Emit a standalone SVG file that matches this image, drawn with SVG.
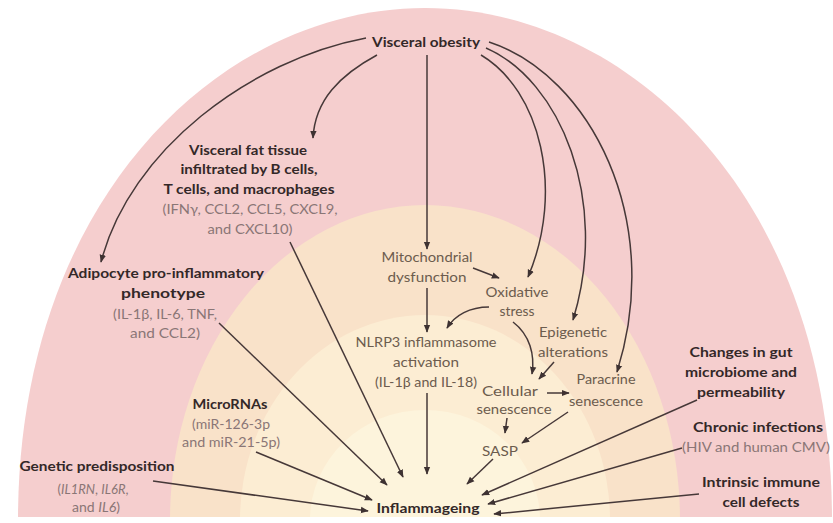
<svg xmlns="http://www.w3.org/2000/svg" width="833" height="523" viewBox="0 0 833 523">
<defs>
<marker id="ah" viewBox="0 0 10 10" refX="9" refY="5" markerWidth="8" markerHeight="8" orient="auto" markerUnits="userSpaceOnUse">
<path d="M0,1 L10,5 L0,9 z" fill="#3e3232"/>
</marker>
<clipPath id="clip"><rect x="0" y="0" width="833" height="517"/></clipPath>
</defs>
<style>
text{font-family:Lato,"Liberation Sans",sans-serif;text-anchor:middle}
.b{font-weight:bold;font-size:14px;fill:#332828}
.g{font-size:13px;fill:#8a7676}
.i{font-size:14px;fill:#6c5c4e}
.c path,.c line{fill:none;stroke:#463838;stroke-width:1.5;marker-end:url(#ah)}
</style>
<rect width="833" height="523" fill="#ffffff"/>
<g id="background" clip-path="url(#clip)">
<path d="M 18 520 C 18 200, 220 8, 425 8 C 630 8, 832 200, 832 520 Z" fill="#f5cece"/>
<ellipse cx="425" cy="520" rx="255" ry="315" fill="#f9e2c9"/>
<ellipse cx="425" cy="520" rx="185" ry="205" fill="#fcedd3"/>
<ellipse cx="425" cy="520" rx="115" ry="110" fill="#fdf4dc"/>
</g>
<g id="connectors" class="c">
<path d="M 366 38 C 250 60, 130 150, 101 262"/>
<path d="M 377 55 C 340 75, 315 100, 313 138"/>
<line x1="427" y1="55" x2="427" y2="249"/>
<path d="M 481 55 C 540 90, 565 190, 528 277"/>
<path d="M 486 48 C 560 80, 610 200, 573 320"/>
<path d="M 489 42 C 590 75, 665 220, 617 372"/>
<line x1="473" y1="268" x2="499" y2="278"/>
<line x1="427" y1="288" x2="427" y2="332"/>
<path d="M 489 307 C 470 307, 455 315, 447 328"/>
<path d="M 513 322 C 530 335, 535 355, 532 374"/>
<line x1="554" y1="362" x2="539" y2="379"/>
<line x1="547" y1="393" x2="569" y2="393"/>
<line x1="507" y1="418" x2="505" y2="433"/>
<line x1="568" y1="412" x2="522" y2="443"/>
<line x1="493" y1="459" x2="467" y2="484"/>
<line x1="427" y1="393" x2="427" y2="474"/>
<line x1="290" y1="242" x2="403" y2="477"/>
<line x1="219" y1="323" x2="387" y2="485"/>
<line x1="256" y1="452" x2="372" y2="500"/>
<line x1="153" y1="481" x2="368" y2="511"/>
<line x1="697" y1="400" x2="482" y2="495"/>
<line x1="682" y1="448" x2="488" y2="504"/>
<line x1="699" y1="494" x2="494" y2="514"/>
</g>
<g id="visceral-obesity"><text class="b" x="426" y="47" font-size="15" textLength="108" lengthAdjust="spacingAndGlyphs">Visceral obesity</text></g>
<g id="visceral-fat">
<text class="b" x="248" y="155" textLength="118" lengthAdjust="spacingAndGlyphs">Visceral fat tissue</text>
<text class="b" x="249" y="174" textLength="137" lengthAdjust="spacingAndGlyphs">infiltrated by B cells,</text>
<text class="b" x="249" y="194" textLength="171" lengthAdjust="spacingAndGlyphs">T cells, and macrophages</text>
<text class="g" x="250" y="214" textLength="175" lengthAdjust="spacingAndGlyphs">(IFNγ, CCL2, CCL5, CXCL9,</text>
<text class="g" x="250" y="234" textLength="85" lengthAdjust="spacingAndGlyphs">and CXCL10)</text>
</g>
<g id="adipocyte">
<text class="b" x="166" y="278" textLength="196" lengthAdjust="spacingAndGlyphs">Adipocyte pro-inflammatory</text>
<text class="b" x="163" y="298" textLength="84" lengthAdjust="spacingAndGlyphs">phenotype</text>
<text class="g" x="165" y="319" textLength="104" lengthAdjust="spacingAndGlyphs">(IL-1β, IL-6, TNF,</text>
<text class="g" x="165" y="338" textLength="70" lengthAdjust="spacingAndGlyphs">and CCL2)</text>
</g>
<g id="mitochondrial">
<text class="i" x="427" y="262" textLength="91" lengthAdjust="spacingAndGlyphs">Mitochondrial</text>
<text class="i" x="427" y="282" textLength="79" lengthAdjust="spacingAndGlyphs">dysfunction</text>
</g>
<g id="oxidative">
<text class="i" x="517" y="297" textLength="63" lengthAdjust="spacingAndGlyphs">Oxidative</text>
<text class="i" x="517" y="316" textLength="35" lengthAdjust="spacingAndGlyphs">stress</text>
</g>
<g id="epigenetic">
<text class="i" x="573" y="337" textLength="68" lengthAdjust="spacingAndGlyphs">Epigenetic</text>
<text class="i" x="573" y="357" textLength="70" lengthAdjust="spacingAndGlyphs">alterations</text>
</g>
<g id="nlrp3">
<text class="i" x="426" y="347" textLength="141" lengthAdjust="spacingAndGlyphs">NLRP3 inflammasome</text>
<text class="i" x="426" y="367" textLength="66" lengthAdjust="spacingAndGlyphs">activation</text>
<text class="i" x="426" y="387" textLength="102" lengthAdjust="spacingAndGlyphs">(IL-1β and IL-18)</text>
</g>
<g id="cellular">
<text class="i" x="510" y="396" textLength="56" lengthAdjust="spacingAndGlyphs">Cellular</text>
<text class="i" x="514" y="414" textLength="75" lengthAdjust="spacingAndGlyphs">senescence</text>
</g>
<g id="paracrine">
<text class="i" x="606" y="384" textLength="59" lengthAdjust="spacingAndGlyphs">Paracrine</text>
<text class="i" x="606" y="406" textLength="74" lengthAdjust="spacingAndGlyphs">senescence</text>
</g>
<g id="sasp"><text class="i" x="500" y="456" textLength="36" lengthAdjust="spacingAndGlyphs">SASP</text></g>
<g id="micrornas">
<text class="b" x="230" y="409" textLength="75" lengthAdjust="spacingAndGlyphs">MicroRNAs</text>
<text class="g" x="231" y="429" textLength="78" lengthAdjust="spacingAndGlyphs">(miR-126-3p</text>
<text class="g" x="231" y="447" textLength="98" lengthAdjust="spacingAndGlyphs">and miR-21-5p)</text>
</g>
<g id="genetic">
<text class="b" x="97" y="471" textLength="155" lengthAdjust="spacingAndGlyphs">Genetic predisposition</text>
<text class="g" x="93" y="494" textLength="71" lengthAdjust="spacingAndGlyphs">(<tspan font-style="italic">IL1RN</tspan>, <tspan font-style="italic">IL6R</tspan>,</text>
<text class="g" x="96" y="512" textLength="48" lengthAdjust="spacingAndGlyphs">and <tspan font-style="italic">IL6</tspan>)</text>
</g>
<g id="inflammageing"><text class="b" x="428" y="513" textLength="103" lengthAdjust="spacingAndGlyphs">Inflammageing</text></g>
<g id="gut">
<text class="b" x="741" y="357" textLength="103" lengthAdjust="spacingAndGlyphs">Changes in gut</text>
<text class="b" x="741" y="377" textLength="112" lengthAdjust="spacingAndGlyphs">microbiome and</text>
<text class="b" x="741" y="397" textLength="88" lengthAdjust="spacingAndGlyphs">permeability</text>
</g>
<g id="chronic">
<text class="b" x="758" y="432" textLength="130" lengthAdjust="spacingAndGlyphs">Chronic infections</text>
<text class="g" x="756" y="452" textLength="148" lengthAdjust="spacingAndGlyphs">(HIV and human CMV)</text>
</g>
<g id="intrinsic">
<text class="b" x="761" y="487" textLength="118" lengthAdjust="spacingAndGlyphs">Intrinsic immune</text>
<text class="b" x="761" y="507" textLength="77" lengthAdjust="spacingAndGlyphs">cell defects</text>
</g>
</svg>
